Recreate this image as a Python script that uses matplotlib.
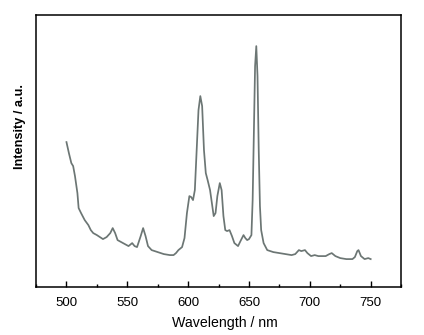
import matplotlib
matplotlib.use("Agg")
import matplotlib.pyplot as plt
from matplotlib.ticker import MultipleLocator, NullLocator

# emission spectrum, intensity in arbitrary units
wavelength_nm = [
    500, 502, 504, 505.5, 507, 509, 510, 512, 515, 518, 520, 522, 525, 530,
    533, 536, 538, 540, 542, 545, 548, 551, 554, 556, 558, 561, 563, 565,
    567, 570, 575, 580, 585, 588, 590, 592, 595, 597, 599, 601, 602.5, 604,
    605.5, 607, 608.5, 610, 611.5, 613, 614.5, 616, 618, 619.5, 621, 622.5,
    624, 626, 627.5, 629, 630.5, 632, 634, 636, 638, 641, 643, 645.5, 647,
    648.5, 650, 652, 653, 654, 655, 656, 657, 658, 659, 660, 662, 665, 670,
    675, 680, 685, 688, 691, 693, 696, 698, 701, 704, 707, 710, 713, 716,
    718, 721, 725, 730, 735, 737, 739, 740, 742, 745, 748, 750,
]
intensity = [
    145, 134, 124, 121, 111, 94, 79, 74, 67, 62, 57, 54, 52, 48,
    50, 54, 59, 54, 47, 45, 43, 41, 44, 41, 40, 51, 59, 51,
    41, 37, 35, 33, 32, 32, 34, 37, 40, 49, 74, 91, 90, 87,
    97, 137, 177, 191, 181, 137, 114, 107, 97, 84, 71, 74,
    91, 104, 97, 71, 57, 56, 57, 51, 44, 41, 46, 52, 49,
    47, 48, 52, 87, 154, 221, 241, 211, 137, 81, 57, 44, 37, 35,
    34, 33, 32, 33, 37, 36, 37, 34, 31, 32, 31, 31, 31, 33,
    34, 31, 29, 28, 28, 30, 36, 37, 31, 28, 29, 28,
]

plt.rcParams["font.family"] = ["Liberation Sans", "DejaVu Sans"]

fig = plt.figure(figsize=(4.24, 3.35), dpi=100)
ax = fig.add_axes([0.085, 0.143, 0.861, 0.812])

ax.plot(wavelength_nm, intensity, color="#6c7674", lw=1.25)

ax.set_xlim(475, 775)
ax.set_ylim(0, 272)
ax.xaxis.set_major_locator(MultipleLocator(50))
ax.xaxis.set_minor_locator(MultipleLocator(25))
ax.yaxis.set_major_locator(NullLocator())
ax.tick_params(axis="x", which="both", direction="in", top=False,
               labelsize=9.5, pad=7)
ax.tick_params(axis="x", which="major", length=4, width=1)
ax.tick_params(axis="x", which="minor", length=2.5, width=1)
for spine in ax.spines.values():
    spine.set_linewidth(1.1)

ax.set_xlabel("Wavelength / nm", fontsize=10.2)
ax.xaxis.set_label_coords(0.518, -0.107)
ax.set_ylabel("Intensity / a.u.", fontsize=9.2, fontweight="bold")
ax.yaxis.set_label_coords(-0.028, 0.59)

fig.savefig("out.png", dpi=100)
